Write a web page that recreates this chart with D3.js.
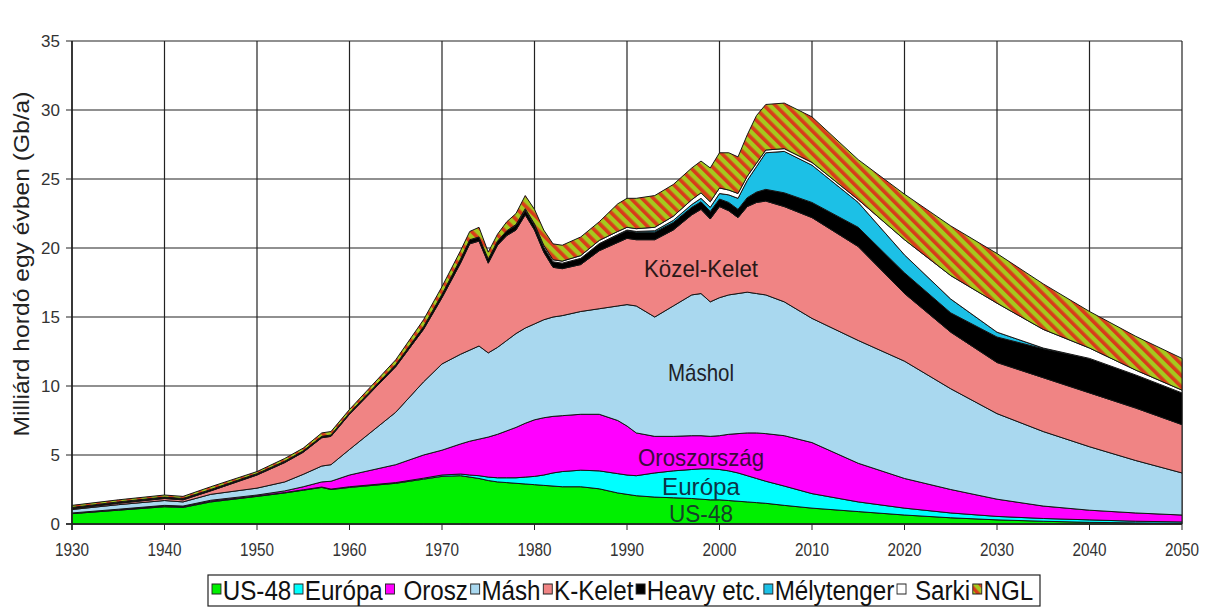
<!DOCTYPE html>
<html>
<head>
<meta charset="utf-8">
<script src="https://cdn.jsdelivr.net/npm/d3@7"></script>
<style>
body { margin: 0; background: #fff; }
text { font-family: "Liberation Sans", Arial, sans-serif; }
.narrow { font-family: "Liberation Sans Narrow", "Arial Narrow", "Liberation Sans", Arial, sans-serif; }
</style>
</head>
<body>
<svg id="chart" width="1205" height="610"></svg>
<script>
// years (denser where the curve is jagged)
var years = [1930, 1935, 1940, 1942, 1945, 1950, 1953, 1955, 1957, 1958, 1960, 1965, 1968, 1970,
    1972, 1973, 1974, 1975, 1976, 1977, 1978, 1979, 1980, 1981, 1982, 1983, 1985, 1987, 1989, 1990,
    1991, 1993, 1995, 1997, 1998, 1999, 2000, 2001, 2002, 2003, 2004, 2005, 2007, 2010, 2015, 2020,
    2025, 2030, 2035, 2040, 2045, 2050];

// layer thickness, Gb/a
var us48 = [0.75, 1.00, 1.25, 1.20, 1.60, 2.00, 2.25, 2.45, 2.65, 2.50, 2.65, 2.95, 3.25, 3.45,
    3.50, 3.40, 3.30, 3.15, 3.05, 3.00, 2.95, 2.90, 2.85, 2.80, 2.75, 2.70, 2.70, 2.55, 2.25, 2.15,
    2.05, 1.95, 1.90, 1.85, 1.80, 1.75, 1.75, 1.70, 1.65, 1.60, 1.55, 1.50, 1.35, 1.15, 0.90, 0.65,
    0.45, 0.30, 0.20, 0.12, 0.08, 0.05];
var europa = [0.02, 0.03, 0.05, 0.05, 0.05, 0.03, 0.03, 0.03, 0.03, 0.03, 0.05, 0.05, 0.07, 0.10,
    0.12, 0.15, 0.20, 0.25, 0.30, 0.35, 0.40, 0.50, 0.60, 0.75, 0.95, 1.10, 1.20, 1.30, 1.40, 1.40,
    1.45, 1.75, 1.95, 2.10, 2.20, 2.25, 2.20, 2.15, 2.05, 1.90, 1.75, 1.60, 1.40, 1.05, 0.70, 0.50,
    0.35, 0.25, 0.20, 0.18, 0.12, 0.10];
var orosz = [0.03, 0.04, 0.05, 0.05, 0.07, 0.07, 0.12, 0.22, 0.37, 0.57, 0.85, 1.30, 1.68, 1.80,
    2.18, 2.45, 2.65, 2.90, 3.15, 3.40, 3.65, 3.90, 4.10, 4.15, 4.10, 4.05, 4.05, 4.10, 3.85, 3.55,
    3.10, 2.65, 2.50, 2.45, 2.40, 2.35, 2.45, 2.65, 2.85, 3.10, 3.30, 3.45, 3.65, 3.70, 2.80, 2.15,
    1.70, 1.25, 0.90, 0.70, 0.60, 0.50];
var mash = [0.25, 0.33, 0.35, 0.30, 0.43, 0.50, 0.65, 0.90, 1.15, 1.20, 1.85, 3.80, 5.30, 6.25,
    6.50, 6.60, 6.75, 6.10, 6.30, 6.55, 6.80, 6.90, 6.95, 7.10, 7.20, 7.25, 7.45, 7.65, 8.30, 8.80,
    9.20, 8.65, 9.45, 10.20, 10.30, 9.75, 10.00, 10.10, 10.15, 10.20, 10.10, 10.05, 9.70, 9.00, 8.90, 8.50,
    7.30, 6.20, 5.40, 4.60, 3.80, 3.05];
var kKelet = [0.05, 0.10, 0.15, 0.15, 0.25, 0.95, 1.40, 1.60, 2.05, 2.05, 2.55, 3.30, 3.80, 4.80,
    6.60, 7.70, 7.60, 6.50, 7.40, 7.60, 7.50, 8.20, 6.80, 4.90, 3.60, 3.40, 3.40, 4.20, 4.60, 4.80,
    4.80, 5.60, 5.50, 5.80, 6.10, 6.00, 6.60, 6.10, 5.50, 6.20, 6.60, 6.80, 6.90, 7.30, 6.80, 4.90,
    4.10, 3.70, 3.90, 3.90, 3.80, 3.50];
var heavy = [0.10, 0.10, 0.10, 0.10, 0.10, 0.10, 0.10, 0.10, 0.10, 0.10, 0.10, 0.15, 0.20, 0.25,
    0.30, 0.30, 0.30, 0.30, 0.30, 0.35, 0.35, 0.35, 0.35, 0.35, 0.40, 0.40, 0.45, 0.50, 0.55, 0.55,
    0.55, 0.55, 0.55, 0.55, 0.55, 0.55, 0.55, 0.60, 0.60, 0.65, 0.75, 0.85, 1.00, 1.10, 1.40, 1.50,
    1.40, 1.85, 2.10, 2.50, 2.40, 2.30];
var melytenger = [0, 0, 0, 0, 0, 0, 0, 0, 0, 0, 0, 0, 0, 0,
    0, 0, 0, 0, 0, 0, 0, 0, 0, 0, 0, 0, 0, 0.02, 0.03, 0.05,
    0.05, 0.10, 0.15, 0.20, 0.25, 0.30, 0.40, 0.55, 0.80, 1.25, 1.85, 2.65, 3.00, 2.70, 1.80, 1.30,
    1.00, 0.35, 0.05, 0, 0, 0];
var sarki = [0, 0, 0, 0, 0, 0, 0, 0, 0, 0, 0, 0, 0, 0,
    0, 0, 0, 0, 0, 0, 0.05, 0.10, 0.10, 0.15, 0.15, 0.15, 0.20, 0.23, 0.22, 0.20,
    0.20, 0.25, 0.30, 0.35, 0.40, 0.40, 0.40, 0.35, 0.35, 0.30, 0.25, 0.20, 0.20, 0.20, 0.20, 1.10,
    1.70, 2.10, 1.35, 0.75, 0.35, 0.20];
var ngl = [0.15, 0.15, 0.15, 0.15, 0.20, 0.15, 0.20, 0.20, 0.25, 0.25, 0.25, 0.35, 0.50, 0.55,
    0.60, 0.60, 0.70, 0.50, 0.50, 0.65, 0.80, 0.95, 1.05, 1.10, 1.15, 1.15, 1.35, 1.35, 2.00, 2.10,
    2.20, 2.30, 2.30, 2.30, 2.30, 2.45, 2.55, 2.70, 2.65, 3.00, 3.45, 3.30, 3.30, 3.30, 2.90, 3.30,
    3.60, 3.60, 3.30, 2.65, 2.45, 2.30];

var keys = ["us48", "europa", "orosz", "mash", "kKelet", "heavy", "melytenger", "sarki", "ngl"];
var legendNames = ["US-48", "Európa", "Orosz", "Másh", "K-Kelet", "Heavy etc.", "Mélytenger", "Sarki", "NGL"];
var colors = ["#00f000", "#00ffff", "#ff00ff", "#a9d8ef", "#f08484", "#000000", "#1cc0e6", "#ffffff", "url(#nglPat)"];

var xTicks = d3.range(1930, 2051, 10);
var yTicks = d3.range(0, 36, 5);

var areaLabels = [
    {text: "Közel-Kelet", year: 1998, value: 18.55, len: 114, color: "#2a1818"},
    {text: "Máshol", year: 1998, value: 11.0, len: 66, color: "#1e2228"},
    {text: "Oroszország", year: 1998, value: 4.8, len: 126, color: "#3a0c3c"},
    {text: "Európa", year: 1998, value: 2.75, len: 78, color: "#0c3448"},
    {text: "US-48", year: 1998, value: 0.8, len: 64, color: "#16402a"}
];

var series = {us48: us48, europa: europa, orosz: orosz, mash: mash, kKelet: kKelet,
    heavy: heavy, melytenger: melytenger, sarki: sarki, ngl: ngl};
var rows = years.map(function (yr, i) {
    var r = {year: yr};
    keys.forEach(function (k) { r[k] = series[k][i]; });
    return r;
});

var plotLeft = 72, plotRight = 1182, plotTop = 41, plotBottom = 524;

var x = d3.scaleLinear().domain([1930, 2050]).range([plotLeft, plotRight]);
var y = d3.scaleLinear().domain([0, 35]).range([plotBottom, plotTop]);

var svg = d3.select("#chart");

// red / yellow-green hatching for NGL
var defs = svg.append("defs");
var pat = defs.append("pattern")
    .attr("id", "nglPat")
    .attr("patternUnits", "userSpaceOnUse")
    .attr("width", 8)
    .attr("height", 8)
    .attr("patternTransform", "rotate(-45)");
pat.append("rect").attr("width", 8).attr("height", 8).attr("fill", "#a6c81e");
pat.append("rect").attr("width", 3.6).attr("height", 8).attr("fill", "#d83c1a");

// grid
svg.append("g").selectAll("line")
    .data(xTicks)
    .enter().append("line")
    .attr("x1", function (d) { return x(d); })
    .attr("x2", function (d) { return x(d); })
    .attr("y1", plotTop).attr("y2", plotBottom)
    .attr("stroke", "#222").attr("stroke-width", 1.2);
svg.append("g").selectAll("line")
    .data(yTicks)
    .enter().append("line")
    .attr("x1", plotLeft).attr("x2", plotRight)
    .attr("y1", function (d) { return y(d); })
    .attr("y2", function (d) { return y(d); })
    .attr("stroke", "#222").attr("stroke-width", 1.2);

var stack = d3.stack().keys(keys)(rows);

var area = d3.area()
    .x(function (d) { return x(d.data.year); })
    .y0(function (d) { return y(d[0]); })
    .y1(function (d) { return y(d[1]); });

svg.append("g").selectAll("path")
    .data(stack)
    .enter().append("path")
    .attr("d", area)
    .attr("fill", function (d, i) { return colors[i]; })
    .attr("stroke", "#151515")
    .attr("stroke-width", 1)
    .attr("stroke-linejoin", "round");

// area labels
svg.append("g").selectAll("text")
    .data(areaLabels)
    .enter().append("text")
    .attr("class", "narrow")
    .attr("x", function (d) { return x(d.year); })
    .attr("y", function (d) { return y(d.value); })
    .attr("dy", "0.36em")
    .attr("text-anchor", "middle")
    .attr("textLength", function (d) { return d.len; })
    .attr("lengthAdjust", "spacingAndGlyphs")
    .style("font-size", "24px")
    .style("fill", function (d) { return d.color; })
    .text(function (d) { return d.text; });

// axes
svg.append("line").attr("x1", plotLeft).attr("x2", plotLeft).attr("y1", plotTop).attr("y2", plotBottom + 6)
    .attr("stroke", "#222").attr("stroke-width", 1.5);
svg.append("line").attr("x1", plotLeft - 6).attr("x2", plotRight).attr("y1", plotBottom).attr("y2", plotBottom)
    .attr("stroke", "#222").attr("stroke-width", 1.5);

svg.append("g").selectAll("line")
    .data(yTicks)
    .enter().append("line")
    .attr("x1", plotLeft - 6).attr("x2", plotLeft)
    .attr("y1", function (d) { return y(d); })
    .attr("y2", function (d) { return y(d); })
    .attr("stroke", "#222");
svg.append("g").selectAll("text")
    .data(yTicks)
    .enter().append("text")
    .attr("x", plotLeft - 12)
    .attr("y", function (d) { return y(d); })
    .attr("dy", "0.36em")
    .attr("text-anchor", "end")
    .style("font-size", "17px")
    .style("fill", "#333")
    .text(function (d) { return d; });

svg.append("g").selectAll("line")
    .data(xTicks)
    .enter().append("line")
    .attr("x1", function (d) { return x(d); })
    .attr("x2", function (d) { return x(d); })
    .attr("y1", plotBottom).attr("y2", plotBottom + 6)
    .attr("stroke", "#222");
svg.append("g").selectAll("text")
    .data(xTicks)
    .enter().append("text")
    .attr("x", function (d) { return x(d); })
    .attr("y", 556)
    .attr("text-anchor", "middle")
    .attr("textLength", 34)
    .attr("lengthAdjust", "spacingAndGlyphs")
    .style("font-size", "18px")
    .style("fill", "#333")
    .text(function (d) { return d; });

svg.append("text")
    .attr("transform", "translate(29,264) rotate(-90)")
    .attr("text-anchor", "middle")
    .attr("textLength", 345)
    .attr("lengthAdjust", "spacingAndGlyphs")
    .style("font-size", "22px")
    .style("fill", "#222")
    .text("Milliárd hordó egy évben (Gb/a)");

// legend
svg.append("rect")
    .attr("x", 208).attr("y", 575).attr("width", 832).attr("height", 31)
    .attr("fill", "#fff").attr("stroke", "#222").attr("stroke-width", 1.2);

var legend = svg.append("g");
var lx = 0;
legendNames.forEach(function (name, i) {
    var pre = (name === "Orosz" || name === "Sarki") ? 8 : 0;
    var g = legend.append("g").attr("transform", "translate(" + lx + ",0)");
    g.append("rect")
        .attr("x", 0).attr("y", -6).attr("width", 10).attr("height", 10)
        .attr("fill", colors[i]).attr("stroke", "#222").attr("stroke-width", 1);
    var t = g.append("text")
        .attr("class", "narrow")
        .attr("x", 12 + pre)
        .attr("y", 0)
        .attr("dy", "0.36em")
        .style("font-size", "27px")
        .style("fill", "#111")
        .text(name);
    lx += 12 + pre + t.node().getComputedTextLength() + 3;
});
var sx = (1036 - 212) / lx;
legend.attr("transform", "translate(212,590) scale(" + sx + ",1)");
</script>
</body>
</html>
